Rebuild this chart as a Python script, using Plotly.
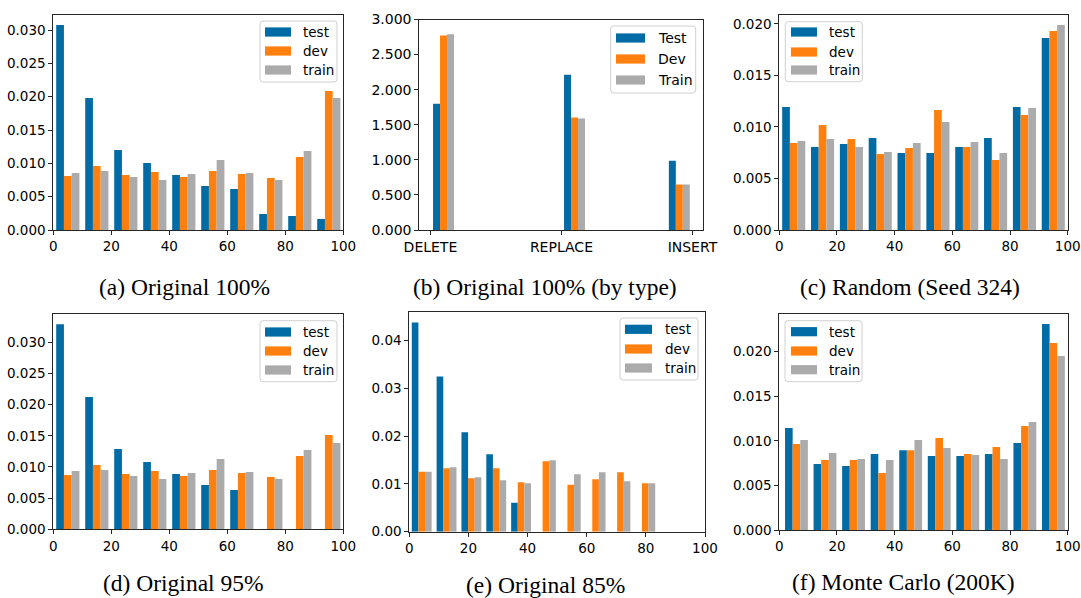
import plotly.graph_objects as go

W, H = 1081, 598

SERIES = ["test", "dev", "train"]
SERIES_CAP = ["Test", "Dev", "Train"]
COLORS = ["#006BA4", "#FF800E", "#ABABAB"]

# ---------------- data ----------------
# (a) Original 100%
a_bins = [5, 15, 25, 35, 45, 55, 65, 75, 85, 95]
a_test = [0.03075, 0.0198, 0.0120, 0.01005, 0.00825, 0.0066, 0.00615, 0.0024, 0.0021, 0.00165]
a_dev = [0.0081, 0.0096, 0.00825, 0.0087, 0.00795, 0.00885, 0.0084, 0.0078, 0.01095, 0.02085]
a_train = [0.00855, 0.00885, 0.00795, 0.0075, 0.0084, 0.0105, 0.00855, 0.0075, 0.01185, 0.0198]

# (b) Original 100% (by type)
b_bins = [0.1, 1.1, 1.9]
b_labels = ["DELETE", "REPLACE", "INSERT"]
b_test = [1.80, 2.214, 0.986]
b_dev = [2.771, 1.605, 0.648]
b_train = [2.790, 1.590, 0.648]

# (c) Random (Seed 324)
c_bins = [5, 15, 25, 35, 45, 55, 65, 75, 85, 95]
c_test = [0.01194, 0.00806, 0.00835, 0.00893, 0.00748, 0.00748, 0.00806, 0.00893, 0.01194, 0.01864]
c_dev = [0.00845, 0.0102, 0.00883, 0.00738, 0.00796, 0.01165, 0.00806, 0.0068, 0.01117, 0.01932]
c_train = [0.00864, 0.00883, 0.00806, 0.00757, 0.00845, 0.01049, 0.00854, 0.00748, 0.01184, 0.0199]

# (d) Original 95%
d_bins = [5, 15, 25, 35, 45, 55, 65, 75, 85, 95]
d_test = [0.03289, 0.02123, 0.01289, 0.0108, 0.00888, 0.00711, 0.00631, 0.0, 0.0, 0.0]
d_dev = [0.00872, 0.01032, 0.00888, 0.00936, 0.00856, 0.00952, 0.00904, 0.0084, 0.01176, 0.01513]
d_train = [0.00936, 0.00952, 0.00856, 0.00807, 0.00904, 0.01128, 0.0092, 0.00807, 0.01273, 0.01385]

# (e) Original 85%
e_bins = [4.2, 12.6, 21.0, 29.4, 37.8, 46.2, 54.6, 63.0, 71.4, 79.8]
e_test = [0.04376, 0.03249, 0.0208, 0.01621, 0.00605, 0.0, 0.0, 0.0, 0.0, 0.0]
e_dev = [0.01252, 0.01329, 0.0112, 0.01329, 0.01037, 0.01475, 0.00981, 0.01099, 0.01245, 0.01016]
e_train = [0.01252, 0.0135, 0.01141, 0.01078, 0.01016, 0.01496, 0.01203, 0.01245, 0.01057, 0.01016]

# (f) Monte Carlo (200K)
f_bins = [5.95, 15.85, 25.75, 35.65, 45.55, 55.45, 65.35, 75.25, 85.15, 95.05]
f_test = [0.01144, 0.0074, 0.00718, 0.00852, 0.00893, 0.0083, 0.0083, 0.00852, 0.00976, 0.0231]
f_dev = [0.00964, 0.00785, 0.00785, 0.00639, 0.00893, 0.01032, 0.00852, 0.00931, 0.01166, 0.02097]
f_train = [0.01009, 0.00864, 0.00796, 0.00785, 0.01009, 0.0092, 0.00841, 0.00796, 0.01211, 0.01951]

pct_ticks = [0, 20, 40, 60, 80, 100]

panels = [
    dict(bins=a_bins, vals=[a_test, a_dev, a_train], binw=10, names=SERIES,
         px=(53.3, 343.3), py=(15, 230), xr=[0, 100], yr=[0, 0.03225],
         xt=pct_ticks, xtt=[str(t) for t in pct_ticks],
         yt=[0, 0.005, 0.010, 0.015, 0.020, 0.025, 0.030], yfmt="%.3f", fs=13.5,
         leg=dict(box=(260, 21, 337, 82), patch=(265, 291), tx=301, rows=(32, 51, 70), fs=13.5),
         cap="(a) Original 100%", cx=184, cy=287),
    dict(bins=b_bins, vals=[b_test, b_dev, b_train], binw=0.2, names=SERIES_CAP,
         px=(419.3, 703.3), py=(19.5, 230), xr=[-0.085, 2.083], yr=[0, 3.0],
         xt=[0, 1, 2], xtt=b_labels,
         yt=[0, 0.5, 1.0, 1.5, 2.0, 2.5, 3.0], yfmt="%.3f", fs=14,
         leg=dict(box=(610.7, 26, 695.7, 93), patch=(616, 645), tx=656, rows=(38, 59, 80), fs=14),
         cap="(b) Original 100% (by type)", cx=545, cy=287),
    dict(bins=c_bins, vals=[c_test, c_dev, c_train], binw=10, names=SERIES,
         px=(779.3, 1067.7), py=(15, 230), xr=[0, 100], yr=[0, 0.02087],
         xt=pct_ticks, xtt=[str(t) for t in pct_ticks],
         yt=[0, 0.005, 0.010, 0.015, 0.020], yfmt="%.3f", fs=13.5,
         leg=dict(box=(785.3, 21.7, 862.3, 81.7), patch=(791, 817), tx=827, rows=(32, 52, 70), fs=13.5),
         cap="(c) Random (Seed 324)", cx=910, cy=287),
    dict(bins=d_bins, vals=[d_test, d_dev, d_train], binw=10, names=SERIES,
         px=(53.3, 343.3), py=(314, 529.3), xr=[0, 100], yr=[0, 0.03455],
         xt=pct_ticks, xtt=[str(t) for t in pct_ticks],
         yt=[0, 0.005, 0.010, 0.015, 0.020, 0.025, 0.030], yfmt="%.3f", fs=13.5,
         leg=dict(box=(260, 320.7, 337, 381.7), patch=(265, 291), tx=301, rows=(332, 351, 370), fs=13.5),
         cap="(d) Original 95%", cx=183, cy=583),
    dict(bins=e_bins, vals=[e_test, e_dev, e_train], binw=8.4, names=SERIES,
         px=(409.3, 705), py=(312.3, 531.7), xr=[0, 100], yr=[0, 0.0459],
         xt=pct_ticks, xtt=[str(t) for t in pct_ticks],
         yt=[0, 0.01, 0.02, 0.03, 0.04], yfmt="%.2f", fs=13.5,
         leg=dict(box=(620, 318, 698, 380), patch=(625, 652), tx=663, rows=(329.3, 349, 368), fs=13.5),
         cap="(e) Original 85%", cx=546, cy=584.5),
    dict(bins=f_bins, vals=[f_test, f_dev, f_train], binw=9.9, names=SERIES,
         px=(779.3, 1067.7), py=(314, 530), xr=[0, 100], yr=[0, 0.02422],
         xt=pct_ticks, xtt=[str(t) for t in pct_ticks],
         yt=[0, 0.005, 0.010, 0.015, 0.020], yfmt="%.3f", fs=13.5,
         leg=dict(box=(785, 320.7, 862, 381.7), patch=(791, 817), tx=827, rows=(331.7, 351, 369.7), fs=13.5),
         cap="(f) Monte Carlo (200K)", cx=903, cy=582),
]


def PX(x):
    return x / W


def PY(y):
    return 1 - y / H


def rounded_path(x0, y0, x1, y1, r):
    pts = [
        ("M", (x0 + r, y0)), ("L", (x1 - r, y0)), ("Q", (x1, y0), (x1, y0 + r)),
        ("L", (x1, y1 - r)), ("Q", (x1, y1), (x1 - r, y1)), ("L", (x0 + r, y1)),
        ("Q", (x0, y1), (x0, y1 - r)), ("L", (x0, y0 + r)), ("Q", (x0, y0), (x0 + r, y0)),
    ]
    s = ""
    for p in pts:
        cmd = p[0]
        coords = " ".join(f"{PX(px):.5f},{PY(py):.5f}" for px, py in p[1:])
        s += f"{cmd} {coords} "
    return s + "Z"


fig = go.Figure()
shapes = []
annotations = []
FONT_SANS = "DejaVu Sans, Arial, sans-serif"
LINE = "#262626"

for k, p in enumerate(panels, start=1):
    xa = "x" if k == 1 else f"x{k}"
    ya = "y" if k == 1 else f"y{k}"
    bw = p["binw"] * 0.8 / 3
    for i, vals in enumerate(p["vals"]):
        fig.add_trace(go.Bar(
            x=p["bins"], y=vals, xaxis=xa, yaxis=ya,
            width=bw, offset=-0.4 * p["binw"] + i * bw,
            marker=dict(color=COLORS[i], line=dict(width=0)),
            name=p["names"][i], showlegend=False, hoverinfo="skip",
        ))
    xkey = "xaxis" if k == 1 else f"xaxis{k}"
    ykey = "yaxis" if k == 1 else f"yaxis{k}"
    axis_common = dict(showline=True, mirror=True, linecolor=LINE, linewidth=1,
                       ticks="outside", ticklen=4, tickwidth=1, tickcolor=LINE,
                       showgrid=False, zeroline=False, automargin=False,
                       tickfont=dict(family=FONT_SANS, size=p["fs"], color="#000"))
    fig.update_layout({
        xkey: dict(domain=[PX(p["px"][0]), PX(p["px"][1])], range=p["xr"], anchor=ya,
                   tickmode="array", tickvals=p["xt"], ticktext=p["xtt"], **axis_common),
        ykey: dict(domain=[PY(p["py"][1]), PY(p["py"][0])], range=p["yr"], anchor=xa,
                   tickmode="array", tickvals=p["yt"],
                   ticktext=[p["yfmt"] % v for v in p["yt"]], **axis_common),
    })
    # legend drawn as in the original (framed, wide patches)
    lg = p["leg"]
    bx0, by0, bx1, by1 = lg["box"]
    shapes.append(dict(type="path", xref="paper", yref="paper",
                       path=rounded_path(bx0, by0, bx1, by1, 3),
                       fillcolor="rgba(255,255,255,0.85)", line=dict(color="#D0D0D0", width=1),
                       layer="above"))
    for i, ry in enumerate(lg["rows"]):
        shapes.append(dict(type="rect", xref="paper", yref="paper",
                           x0=PX(lg["patch"][0]), x1=PX(lg["patch"][1]),
                           y0=PY(ry + 4.6), y1=PY(ry - 4.6),
                           fillcolor=COLORS[i], line=dict(width=0), layer="above"))
        annotations.append(dict(xref="paper", yref="paper", x=PX(lg["tx"]), y=PY(ry),
                                xanchor="left", yanchor="middle", showarrow=False,
                                text=p["names"][i],
                                font=dict(family=FONT_SANS, size=lg["fs"], color="#000")))
    annotations.append(dict(xref="paper", yref="paper", x=PX(p["cx"]), y=PY(p["cy"]),
                            xanchor="center", yanchor="middle", showarrow=False,
                            text=p["cap"],
                            font=dict(family="Liberation Serif, Times New Roman, serif",
                                      size=23.5, color="#000")))

fig.update_layout(
    width=W, height=H,
    margin=dict(l=0, r=0, t=0, b=0, autoexpand=False),
    paper_bgcolor="white", plot_bgcolor="white",
    barmode="overlay",
    showlegend=False,
    shapes=shapes, annotations=annotations,
)

fig.write_html("out.html")
